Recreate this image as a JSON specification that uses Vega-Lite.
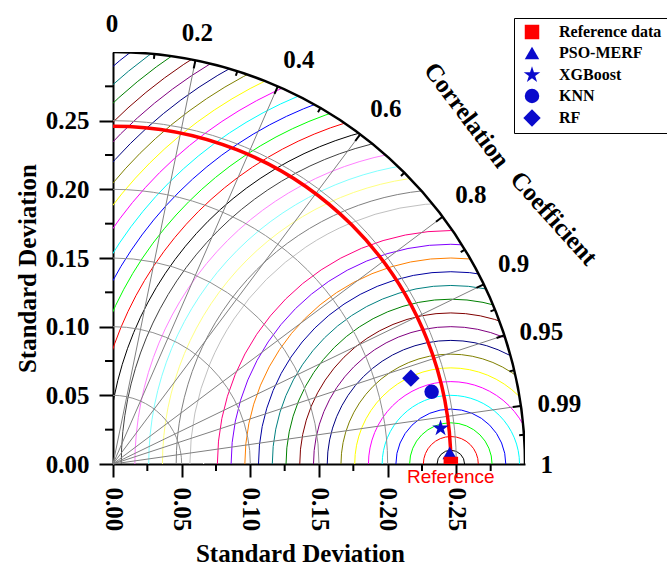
{
  "$schema": "https://vega.github.io/schema/vega-lite/v6.json",
  "width": 412,
  "height": 412,
  "autosize": {"type": "none"},
  "padding": {"left": 113, "top": 52, "right": 142, "bottom": 102},
  "background": "white",
  "config": {
    "view": {"stroke": null},
    "font": "Liberation Serif",
    "axis": {
      "grid": false,
      "zindex": 1,
      "domainColor": "black",
      "domainWidth": 2,
      "tickColor": "black",
      "tickWidth": 2,
      "tickSize": 13,
      "labelFont": "Liberation Serif",
      "labelFontWeight": "bold",
      "labelFontSize": 25,
      "labelColor": "black",
      "labelPadding": 10,
      "labelOverlap": false,
      "labelFlush": false,
      "labelBound": false,
      "titleFont": "Liberation Serif",
      "titleFontWeight": "bold",
      "titleFontSize": 25,
      "titleColor": "black"
    },
    "legend": {
      "orient": "none",
      "legendX": 401,
      "legendY": -34,
      "strokeColor": "black",
      "fillColor": "white",
      "padding": 6,
      "labelOffset": 19,
      "rowPadding": 5,
      "symbolSize": 210,
      "symbolOffset": 4,
      "labelFont": "Liberation Serif",
      "labelFontWeight": "bold",
      "labelFontSize": 16,
      "labelColor": "black"
    }
  },
  "datasets": {
    "rmsd": [
      {"r": 0.01}, {"r": 0.02}, {"r": 0.03}, {"r": 0.04}, {"r": 0.05}, {"r": 0.06}, {"r": 0.07}, {"r": 0.08},
      {"r": 0.09}, {"r": 0.1}, {"r": 0.11}, {"r": 0.12}, {"r": 0.13}, {"r": 0.14}, {"r": 0.15}, {"r": 0.16},
      {"r": 0.17}, {"r": 0.18}, {"r": 0.19}, {"r": 0.2}, {"r": 0.21}, {"r": 0.22}, {"r": 0.23}, {"r": 0.24},
      {"r": 0.25}, {"r": 0.26}, {"r": 0.27}, {"r": 0.28}, {"r": 0.29}, {"r": 0.3}, {"r": 0.31}, {"r": 0.32},
      {"r": 0.33}, {"r": 0.34}, {"r": 0.35}, {"r": 0.36}, {"r": 0.37}, {"r": 0.38}
    ],
    "sdarcs": [{"sd": 0.05}, {"sd": 0.1}, {"sd": 0.15}, {"sd": 0.2}, {"sd": 0.25}],
    "rays": [
      {"corr": 0.2, "xa": 0, "ya": 0, "xb": 0.06, "yb": 0.2939},
      {"corr": 0.4, "xa": 0, "ya": 0, "xb": 0.12, "yb": 0.275},
      {"corr": 0.6, "xa": 0, "ya": 0, "xb": 0.18, "yb": 0.24},
      {"corr": 0.8, "xa": 0, "ya": 0, "xb": 0.24, "yb": 0.18},
      {"corr": 0.9, "xa": 0, "ya": 0, "xb": 0.27, "yb": 0.1308},
      {"corr": 0.95, "xa": 0, "ya": 0, "xb": 0.285, "yb": 0.0937},
      {"corr": 0.99, "xa": 0, "ya": 0, "xb": 0.297, "yb": 0.0423}
    ],
    "ticks": [
      {"xa": 0.0588, "ya": 0.2881, "xb": 0.06, "yb": 0.2939},
      {"xa": 0.1176, "ya": 0.2695, "xb": 0.12, "yb": 0.275},
      {"xa": 0.1764, "ya": 0.2352, "xb": 0.18, "yb": 0.24},
      {"xa": 0.2352, "ya": 0.1764, "xb": 0.24, "yb": 0.18},
      {"xa": 0.2646, "ya": 0.1282, "xb": 0.27, "yb": 0.1308},
      {"xa": 0.2793, "ya": 0.0918, "xb": 0.285, "yb": 0.0937},
      {"xa": 0.2911, "ya": 0.0415, "xb": 0.297, "yb": 0.0423},
      {"xa": 0.0298, "ya": 0.295, "xb": 0.03015, "yb": 0.29848},
      {"xa": 0.08944, "ya": 0.28269, "xb": 0.0905, "yb": 0.28603},
      {"xa": 0.14926, "ya": 0.25619, "xb": 0.15102, "yb": 0.25922},
      {"xa": 0.20966, "ya": 0.20966, "xb": 0.21213, "yb": 0.21213},
      {"xa": 0.25319, "ya": 0.15429, "xb": 0.25618, "yb": 0.15611},
      {"xa": 0.27487, "ya": 0.11114, "xb": 0.27812, "yb": 0.11245},
      {"xa": 0.28872, "ya": 0.06746, "xb": 0.29213, "yb": 0.06826},
      {"xa": 0.29576, "ya": 0.02097, "xb": 0.29925, "yb": 0.02121}
    ],
    "minorticks": [
      {"xa": -0.0058, "ya": 0.025, "xb": 0, "yb": 0.025},
      {"xa": -0.0058, "ya": 0.075, "xb": 0, "yb": 0.075},
      {"xa": -0.0058, "ya": 0.125, "xb": 0, "yb": 0.125},
      {"xa": -0.0058, "ya": 0.175, "xb": 0, "yb": 0.175},
      {"xa": -0.0058, "ya": 0.225, "xb": 0, "yb": 0.225},
      {"xa": -0.0058, "ya": 0.275, "xb": 0, "yb": 0.275},
      {"xa": 0.025, "ya": -0.0051, "xb": 0.025, "yb": 0},
      {"xa": 0.075, "ya": -0.0051, "xb": 0.075, "yb": 0},
      {"xa": 0.125, "ya": -0.0051, "xb": 0.125, "yb": 0},
      {"xa": 0.175, "ya": -0.0051, "xb": 0.175, "yb": 0},
      {"xa": 0.225, "ya": -0.0051, "xb": 0.225, "yb": 0},
      {"xa": 0.275, "ya": -0.0051, "xb": 0.275, "yb": 0}
    ],
    "corrlab": [
      {"lab": "0", "x": -0.0007, "y": 0.3202},
      {"lab": "0.2", "x": 0.0615, "y": 0.314},
      {"lab": "0.4", "x": 0.1354, "y": 0.294},
      {"lab": "0.6", "x": 0.1987, "y": 0.2587},
      {"lab": "0.8", "x": 0.2606, "y": 0.1961},
      {"lab": "0.9", "x": 0.2918, "y": 0.1459},
      {"lab": "0.95", "x": 0.3119, "y": 0.0964},
      {"lab": "0.99", "x": 0.325, "y": 0.044},
      {"lab": "1", "x": 0.3159, "y": -0.0007}
    ],
    "pts": [
      {"model": "PSO-MERF", "x": 0.2452, "y": 0.008},
      {"model": "XGBoost", "x": 0.2385, "y": 0.026},
      {"model": "KNN", "x": 0.232, "y": 0.0526},
      {"model": "RF", "x": 0.2169, "y": 0.0625},
      {"model": "Reference data", "x": 0.246, "y": 0}
    ]
  },
  "encoding": {
    "x": {
      "type": "quantitative",
      "scale": {"domain": [0, 0.3], "nice": false, "zero": true},
      "axis": {
        "title": "Standard Deviation",
        "values": [0, 0.05, 0.1, 0.15, 0.2, 0.25],
        "format": ".2f",
        "labelAngle": 90,
        "titleX": 187,
        "titleY": 89,
        "titleBaseline": "middle",
        "titleAlign": "center"
      }
    },
    "y": {
      "type": "quantitative",
      "scale": {"domain": [0, 0.3], "nice": false, "zero": true},
      "axis": {
        "title": "Standard Deviation",
        "values": [0, 0.05, 0.1, 0.15, 0.2, 0.25],
        "format": ".2f",
        "tickSize": 14,
        "labelAngle": 0,
        "titleX": -86,
        "titleY": 216,
        "titleAngle": 270,
        "titleBaseline": "middle",
        "titleAlign": "center"
      }
    }
  },
  "layer": [
    {
      "data": {"name": "rmsd"},
      "mark": {"type": "arc", "filled": false, "strokeWidth": 1, "theta": 0, "theta2": 6.2832, "clip": true},
      "encoding": {
        "x": {"datum": 0.246, "type": "quantitative"},
        "y": {"datum": 0, "type": "quantitative"},
        "radius": {"field": "r", "type": "quantitative", "stack": null, "scale": {"type": "linear", "domain": [0, 0.3], "range": [0, {"expr": "width"}], "zero": true, "nice": false}},
        "stroke": {
          "field": "r", "type": "ordinal", "legend": null,
          "scale": {
            "domain": [0.01,0.02,0.03,0.04,0.05,0.06,0.07,0.08,0.09,0.1,0.11,0.12,0.13,0.14,0.15,0.16,0.17,0.18,0.19,0.2,0.21,0.22,0.23,0.24,0.25,0.26,0.27,0.28,0.29,0.3,0.31,0.32,0.33,0.34,0.35,0.36,0.37,0.38],
            "range": ["#000000","#FF0000","#00FF00","#0000FF","#00FFFF","#FF00FF","#FFFF00","#808000","#000080","#800080","#800000","#008000","#008080","#0000A0","#FF8000","#8000FF","#FF0080","#FFFFFF","#C0C0C0","#808080","#FFFF80","#80FFFF","#FF80FF","#404040","#000000","#FF0000","#00FF00","#0000FF","#00FFFF","#FF00FF","#FFFF00","#808000","#000080","#800080","#800000","#008000","#008080","#0000A0"]
          }
        }
      }
    },
    {
      "data": {"values": [{"m": 1}]},
      "mark": {"type": "arc", "fill": "white", "stroke": null, "theta": 0, "theta2": 6.2832, "clip": true},
      "encoding": {
        "x": {"datum": 0, "type": "quantitative"},
        "y": {"datum": 0, "type": "quantitative"},
        "radius": {"datum": 0.3, "type": "quantitative", "stack": null, "scale": {"type": "linear", "domain": [0, 0.3], "range": [0, {"expr": "width"}], "zero": true, "nice": false}},
        "radius2": {"datum": 0.5}
      }
    },
    {
      "data": {"name": "sdarcs"},
      "mark": {"type": "arc", "filled": false, "stroke": "#909090", "strokeWidth": 1, "theta": 0, "theta2": 6.2832, "clip": true},
      "encoding": {
        "x": {"datum": 0, "type": "quantitative"},
        "y": {"datum": 0, "type": "quantitative"},
        "radius": {"field": "sd", "type": "quantitative", "stack": null, "scale": {"type": "linear", "domain": [0, 0.3], "range": [0, {"expr": "width"}], "zero": true, "nice": false}}
      }
    },
    {
      "data": {"name": "rays"},
      "mark": {"type": "rule", "color": "#808080", "strokeWidth": 1},
      "encoding": {
        "x": {"field": "xa", "type": "quantitative"},
        "y": {"field": "ya", "type": "quantitative"},
        "x2": {"field": "xb"},
        "y2": {"field": "yb"}
      }
    },
    {
      "data": {"values": [{"m": 1}]},
      "mark": {"type": "arc", "filled": false, "stroke": "#FF0000", "strokeWidth": 3.5, "theta": 0, "theta2": 6.2832, "clip": true},
      "encoding": {
        "x": {"datum": 0, "type": "quantitative"},
        "y": {"datum": 0, "type": "quantitative"},
        "radius": {"datum": 0.246, "type": "quantitative", "stack": null, "scale": {"type": "linear", "domain": [0, 0.3], "range": [0, {"expr": "width"}], "zero": true, "nice": false}}
      }
    },
    {
      "data": {"values": [{"m": 1}]},
      "mark": {"type": "arc", "filled": false, "stroke": "black", "strokeWidth": 2.5, "theta": 0, "theta2": 6.2832, "clip": true},
      "encoding": {
        "x": {"datum": 0, "type": "quantitative"},
        "y": {"datum": 0, "type": "quantitative"},
        "radius": {"datum": 0.3, "type": "quantitative", "stack": null, "scale": {"type": "linear", "domain": [0, 0.3], "range": [0, {"expr": "width"}], "zero": true, "nice": false}}
      }
    },
    {
      "data": {"name": "ticks"},
      "mark": {"type": "rule", "color": "black", "strokeWidth": 2},
      "encoding": {
        "x": {"field": "xa", "type": "quantitative"},
        "y": {"field": "ya", "type": "quantitative"},
        "x2": {"field": "xb"},
        "y2": {"field": "yb"}
      }
    },
    {
      "data": {"name": "minorticks"},
      "mark": {"type": "rule", "color": "black", "strokeWidth": 2},
      "encoding": {
        "x": {"field": "xa", "type": "quantitative"},
        "y": {"field": "ya", "type": "quantitative"},
        "x2": {"field": "xb"},
        "y2": {"field": "yb"}
      }
    },
    {
      "data": {"name": "pts"},
      "mark": {"type": "point", "filled": true, "opacity": 1, "size": 210, "strokeWidth": 0, "clip": true},
      "encoding": {
        "x": {"field": "x", "type": "quantitative"},
        "y": {"field": "y", "type": "quantitative"},
        "color": {
          "field": "model", "type": "nominal", "title": null,
          "scale": {"domain": ["Reference data", "PSO-MERF", "XGBoost", "KNN", "RF"], "range": ["#FF0000", "#0A0ACC", "#0A0ACC", "#0A0ACC", "#0A0ACC"]}
        },
        "shape": {
          "field": "model", "type": "nominal", "title": null,
          "scale": {"domain": ["Reference data", "PSO-MERF", "XGBoost", "KNN", "RF"], "range": ["square", "triangle-up", "M0,-1.2L0.27,-0.371L1.141,-0.371L0.436,0.142L0.706,0.971L0,0.458L-0.706,0.971L-0.436,0.142L-1.141,-0.371L-0.27,-0.371Z", "circle", "M-1.2,0L0,-1.2L1.2,0L0,1.2Z"]}
        }
      }
    },
    {
      "data": {"name": "corrlab"},
      "mark": {"type": "text", "font": "Liberation Serif", "fontWeight": "bold", "fontSize": 25, "color": "black", "align": "center", "baseline": "middle"},
      "encoding": {
        "x": {"field": "x", "type": "quantitative"},
        "y": {"field": "y", "type": "quantitative"},
        "text": {"field": "lab"}
      }
    },
    {
      "data": {"values": [
        {"t": "Correlation", "x": 0.2576, "y": 0.254, "a": 53},
        {"t": "Coefficient", "x": 0.321, "y": 0.179, "a": 48}
      ]},
      "mark": {"type": "text", "font": "Liberation Serif", "fontWeight": "bold", "fontSize": 25, "color": "black", "align": "center", "baseline": "middle"},
      "encoding": {
        "x": {"field": "x", "type": "quantitative"},
        "y": {"field": "y", "type": "quantitative"},
        "angle": {"field": "a", "type": "quantitative", "scale": null},
        "text": {"field": "t"}
      }
    },
    {
      "data": {"values": [{"t": "Reference", "x": 0.246, "y": -0.0095}]},
      "mark": {"type": "text", "font": "Liberation Sans", "fontSize": 19, "color": "#FF0000", "align": "center", "baseline": "middle"},
      "encoding": {
        "x": {"field": "x", "type": "quantitative"},
        "y": {"field": "y", "type": "quantitative"},
        "text": {"field": "t"}
      }
    }
  ]
}
